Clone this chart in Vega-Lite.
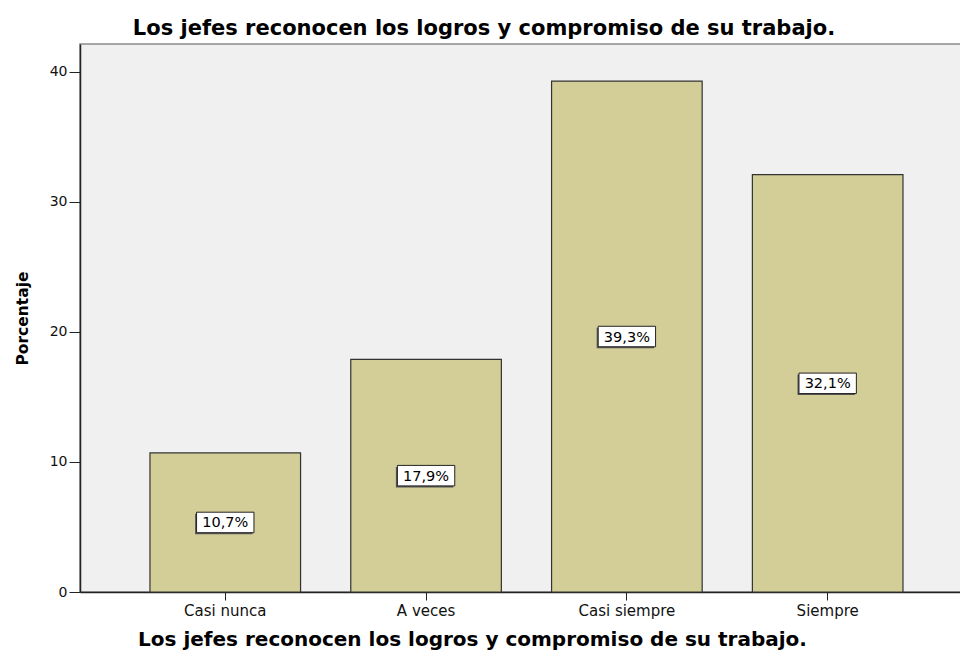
{
  "$schema": "https://vega.github.io/schema/vega-lite/v6.json",
  "autosize": {"type": "none"},
  "padding": {"left": 80, "top": 44, "right": 0, "bottom": 59},
  "width": 900,
  "height": 548,
  "background": "white",
  "config": {
    "view": {"fill": "#F0F0F0", "stroke": "#8a8a8a", "strokeWidth": 1.5},
    "font": "DejaVu Sans"
  },
  "title": {
    "text": "Los jefes reconocen los logros y compromiso de su trabajo.",
    "font": "DejaVu Sans",
    "fontWeight": "bold",
    "fontSize": 21,
    "color": "#000000",
    "anchor": "middle",
    "frame": "group",
    "dx": -46,
    "baseline": "alphabetic",
    "offset": 9,
    "dy": 21
  },
  "data": {
    "values": [
      {"categoria": "Casi nunca", "porcentaje": 10.7, "etiqueta": "10,7%"},
      {"categoria": "A veces", "porcentaje": 17.9, "etiqueta": "17,9%"},
      {"categoria": "Casi siempre", "porcentaje": 39.3, "etiqueta": "39,3%"},
      {"categoria": "Siempre", "porcentaje": 32.1, "etiqueta": "32,1%"}
    ]
  },
  "encoding": {
    "x": {
      "field": "categoria",
      "type": "nominal",
      "sort": ["Casi nunca", "A veces", "Casi siempre", "Siempre"],
      "scale": {"paddingInner": 0.25, "paddingOuter": 0.366, "align": 0.476},
      "axis": {
        "title": "Los jefes reconocen los logros y compromiso de su trabajo.",
        "titleFont": "DejaVu Sans",
        "titleFontWeight": "bold",
        "titleFontSize": 20,
        "titleColor": "#000000",
        "titleX": 392,
        "titleY": 53,
        "titleAlign": "center",
        "titleBaseline": "alphabetic",
        "labelAngle": 0,
        "labelFont": "DejaVu Sans",
        "labelFontSize": 15,
        "labelColor": "#111111",
        "labelPadding": 3,
        "tickSize": 8,
        "tickColor": "#222222",
        "domainColor": "#222222",
        "domainWidth": 1.5
      }
    }
  },
  "layer": [
    {
      "mark": {"type": "bar", "fill": "#D3CE97", "stroke": "#333333", "strokeWidth": 1.2},
      "encoding": {
        "y": {
          "field": "porcentaje",
          "type": "quantitative",
          "scale": {"domain": [0, 42.15], "nice": false},
          "axis": {
            "title": "Porcentaje",
            "titleFont": "DejaVu Sans",
            "titleFontWeight": "bold",
            "titleFontSize": 15.5,
            "titleColor": "#000000",
            "titleX": -58,
            "titleY": 274,
            "titleAngle": -90,
            "titleAlign": "center",
            "titleBaseline": "middle",
            "values": [0, 10, 20, 30, 40],
            "grid": false,
            "labelFont": "DejaVu Sans",
            "labelFontSize": 14,
            "labelColor": "#111111",
            "labelPadding": 2,
            "tickSize": 11,
            "tickColor": "#222222",
            "domainColor": "#222222",
            "domainWidth": 1.5
          }
        }
      }
    },
    {
      "layer": [
        {
          "mark": {"type": "point", "shape": "M-2.8,-1H2.8V1H-2.8Z", "size": 420, "filled": true, "fill": "#555555", "opacity": 1, "xOffset": -1.5, "yOffset": 1.5}
        },
        {
          "mark": {"type": "point", "shape": "M-2.8,-1H2.8V1H-2.8Z", "size": 420, "filled": true, "fill": "#FFFFFF", "stroke": "#222222", "strokeWidth": 1, "opacity": 1}
        },
        {
          "mark": {"type": "text", "font": "DejaVu Sans", "fontSize": 14.5, "color": "#000000", "baseline": "middle", "align": "center", "dy": 1},
          "encoding": {"text": {"field": "etiqueta"}}
        }
      ],
      "encoding": {
        "y": {
          "field": "porcentaje",
          "type": "quantitative",
          "scale": {"domain": [0, 84.3], "nice": false},
          "axis": null
        }
      }
    }
  ],
  "resolve": {"scale": {"y": "independent"}}
}
